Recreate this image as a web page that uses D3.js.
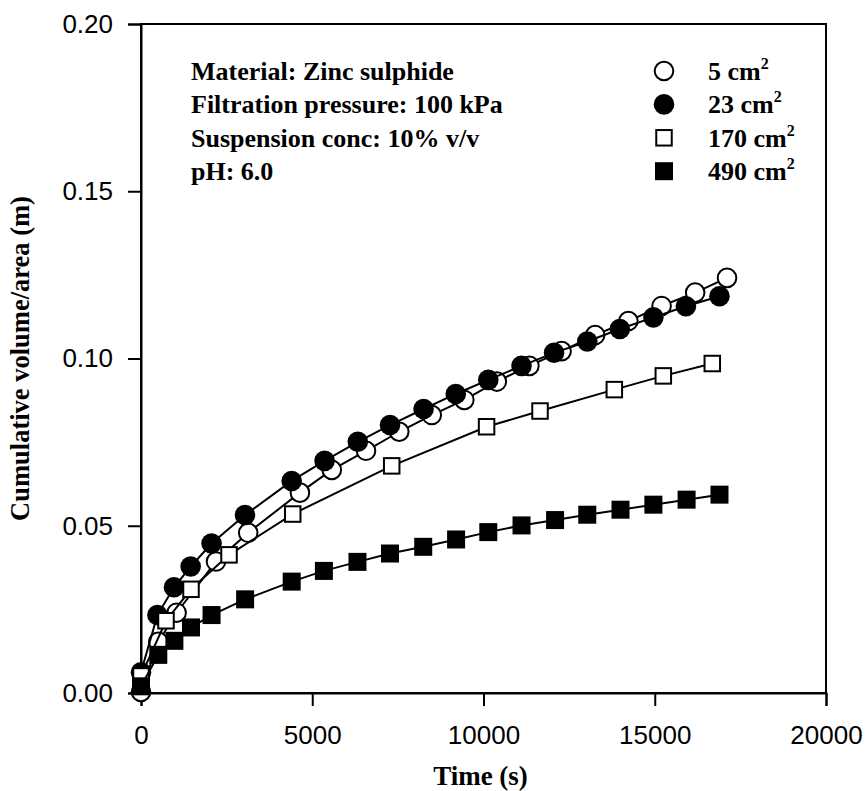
<!DOCTYPE html>
<html><head><meta charset="utf-8">
<script src="https://cdn.jsdelivr.net/npm/d3@7"></script>
<style>body{margin:0;background:#fff}svg{display:block}</style>
</head><body>
<script>
// Data (time in s, cumulative volume/area in m)
const seriesNames = ["5 cm", "23 cm", "170 cm", "490 cm"];
const t5 = [0, 505, 1040, 2190, 3130, 4640, 5570, 6570, 7540, 8490, 9440, 10390, 11340, 12280, 13260, 14230, 15200, 16180, 17110];
const v5 = [0.0003, 0.0153, 0.0240, 0.0393, 0.0479, 0.0599, 0.0667, 0.0724, 0.0781, 0.0831, 0.0876, 0.0931, 0.0978, 0.1022, 0.1070, 0.1112, 0.1157, 0.1197, 0.1241];
const t23 = [0, 480, 963, 1450, 2060, 3036, 4400, 5360, 6330, 7270, 8250, 9190, 10140, 11110, 12060, 13030, 13980, 14960, 15910, 16890];
const v23 = [0.0062, 0.0233, 0.0316, 0.0378, 0.0447, 0.0532, 0.0634, 0.0694, 0.0751, 0.0801, 0.0849, 0.0894, 0.0936, 0.0978, 0.1017, 0.1051, 0.1088, 0.1123, 0.1156, 0.1186];
const t170 = [0, 730, 1460, 2570, 4430, 7320, 10090, 11650, 13820, 15250, 16680];
const v170 = [0.0051, 0.0216, 0.0310, 0.0413, 0.0535, 0.0679, 0.0796, 0.0843, 0.0907, 0.0948, 0.0985];
const t490 = [0, 505, 975, 1460, 2060, 3040, 4400, 5340, 6320, 7270, 8240, 9200, 10140, 11110, 12090, 13030, 14000, 14960, 15930, 16890];
const v490 = [0.0020, 0.0114, 0.0156, 0.0196, 0.0233, 0.0280, 0.0333, 0.0365, 0.0392, 0.0417, 0.0437, 0.0459, 0.0481, 0.0501, 0.0517, 0.0533, 0.0548, 0.0563, 0.0578, 0.0593];
const xTicks = [0, 5000, 10000, 15000, 20000];
const yTicks = [0.00, 0.05, 0.10, 0.15, 0.20];
const notes = ["Material: Zinc sulphide", "Filtration pressure: 100 kPa", "Suspension conc: 10% v/v", "pH: 6.0"];

const W = 867, H = 791;
const L = 141, R = 826, T = 24, B = 693;
const svg = d3.select("body").append("svg").attr("width", W).attr("height", H);
const x = d3.scaleLinear().domain([0, 20000]).range([L, R]);
const y = d3.scaleLinear().domain([0, 0.2]).range([B, T]);

const series = [
  {name: seriesNames[0], t: t5, v: v5, shape: "circle", fill: "#fff"},
  {name: seriesNames[1], t: t23, v: v23, shape: "circle", fill: "#000"},
  {name: seriesNames[2], t: t170, v: v170, shape: "square", fill: "#fff"},
  {name: seriesNames[3], t: t490, v: v490, shape: "square", fill: "#000"}
];

const sans = "Liberation Sans, Arial, sans-serif";
const serif = "Liberation Serif, Times New Roman, serif";

// frame
svg.append("rect").attr("x", L).attr("y", T).attr("width", R - L).attr("height", B - T)
  .attr("fill", "none").attr("stroke", "#000").attr("stroke-width", 2);

// axes
const xAxis = d3.axisBottom(x).tickValues(xTicks).tickFormat(d3.format("d")).tickSize(13).tickPadding(20);
const gx = svg.append("g").attr("transform", `translate(0,${B})`).call(xAxis);
const yAxis = d3.axisLeft(y).tickValues(yTicks).tickFormat(d3.format(".2f")).tickSize(13).tickPadding(15);
const gy = svg.append("g").attr("transform", `translate(${L},0)`).call(yAxis);
[gx, gy].forEach(g => {
  g.select(".domain").attr("stroke-width", 2);
  g.selectAll(".tick line").attr("stroke-width", 2);
  g.selectAll(".tick text").attr("font-family", sans).attr("font-size", 26).attr("fill", "#000");
});

svg.append("text").attr("x", (L + R) / 2 - 3).attr("y", 785).attr("text-anchor", "middle")
  .attr("font-family", serif).attr("font-weight", "bold").attr("font-size", 27)
  .text("Time (s)");
svg.append("text").attr("transform", `translate(29,${(T + B) / 2}) rotate(-90)`).attr("text-anchor", "middle")
  .attr("font-family", serif).attr("font-weight", "bold").attr("font-size", 26.5)
  .text("Cumulative volume/area (m)");

// series
const line = d3.line().x(d => x(d[0])).y(d => y(d[1]));
function marker(g, shape, fill, cx, cy) {
  if (shape === "circle") {
    g.append("circle").attr("cx", cx).attr("cy", cy).attr("r", fill === "#000" ? 10.3 : 9.3)
      .attr("fill", fill).attr("stroke", "#000").attr("stroke-width", fill === "#000" ? 0 : 2);
  } else {
    const s = fill === "#000" ? 18 : 15.5;
    g.append("rect").attr("x", cx - s / 2).attr("y", cy - s / 2).attr("width", s).attr("height", s)
      .attr("fill", fill).attr("stroke", "#000").attr("stroke-width", fill === "#000" ? 0 : 2);
  }
}
series.forEach(s => {
  const pts = s.t.map((t, i) => [t, s.v[i]]);
  const g = svg.append("g");
  g.append("path").attr("d", line(pts)).attr("fill", "none").attr("stroke", "#000").attr("stroke-width", 2);
  pts.forEach(p => marker(g, s.shape, s.fill, x(p[0]), y(p[1])));
});

// notes
notes.forEach((n, i) => {
  svg.append("text").attr("x", 191).attr("y", 80 + i * 33.4).attr("font-family", serif)
    .attr("font-weight", "bold").attr("font-size", 26).text(n);
});

// legend
series.forEach((s, i) => {
  const base = 80 + i * 33.4;
  marker(svg, s.shape, s.fill, 664, base - 9);
  const tx = svg.append("text").attr("x", 708).attr("y", base).attr("font-family", serif)
    .attr("font-weight", "bold").attr("font-size", 26);
  tx.append("tspan").text(s.name);
  tx.append("tspan").attr("dy", -11).attr("font-size", 16).text("2");
});
</script>
</body></html>
